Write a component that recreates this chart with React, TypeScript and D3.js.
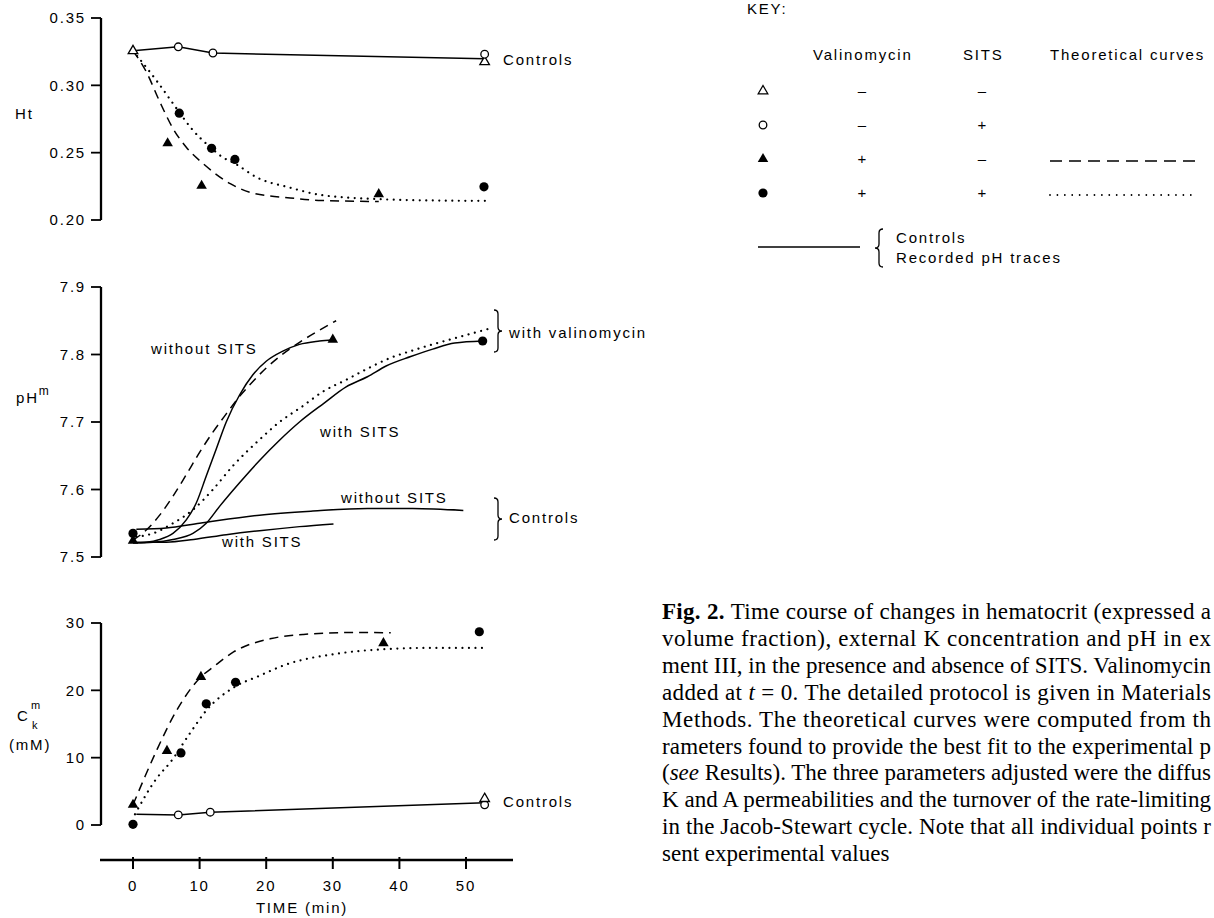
import React from 'react';
import * as d3 from 'd3';

type P = [number, number];

// ---------- axes ----------
const timeTicks = [0, 10, 20, 30, 40, 50];
const htTicks = [0.2, 0.25, 0.3, 0.35];
const phTicks = [7.5, 7.6, 7.7, 7.8, 7.9];
const ckTicks = [0, 10, 20, 30];

// ---------- Ht panel ----------
const htControlLine: P[] = [[0, 0.3256], [6.8, 0.3286], [12, 0.324], [52.8, 0.3197]];
const htOpenCircles: P[] = [[6.8, 0.3286], [12, 0.324], [52.8, 0.3231]];
const htOpenTriangles: P[] = [[0, 0.3256], [52.8, 0.3174]];
const htFilledTriangles: P[] = [[5.2, 0.257], [10.3, 0.2254], [36.9, 0.2192]];
const htFilledCircles: P[] = [[6.95, 0.2793], [11.8, 0.2532], [15.3, 0.245], [52.7, 0.2246]];
const htDashed: P[] = [[0, 0.3256], [2, 0.31], [4, 0.288], [6, 0.268], [8, 0.254], [10.5, 0.242], [14.6, 0.227], [17.6, 0.2205], [23.6, 0.2164], [28.3, 0.2145], [36.9, 0.2137]];
const htDotted: P[] = [[0, 0.3256], [3.5, 0.3037], [6.95, 0.28], [8.6, 0.269], [11.8, 0.2532], [13.5, 0.2465], [15.3, 0.242], [18.6, 0.2316], [23.6, 0.224], [28.3, 0.2185], [36.9, 0.2155], [45, 0.2145], [53.2, 0.2142]];

// ---------- pH panel ----------
const phWithoutSitsTrace: P[] = [[0, 7.521], [2, 7.522], [4, 7.526], [6, 7.535], [8, 7.555], [9.5, 7.58], [11, 7.62], [12.5, 7.66], [14, 7.7], [16, 7.74], [18, 7.77], [20, 7.79], [22.5, 7.805], [25, 7.815], [28, 7.82], [30, 7.822]];
const phWithSitsTrace: P[] = [[0, 7.521], [3, 7.522], [6, 7.526], [9, 7.535], [11, 7.55], [13, 7.575], [16, 7.61], [19, 7.643], [22, 7.673], [25, 7.7], [28.7, 7.728], [32, 7.752], [35.2, 7.767], [38, 7.783], [41.7, 7.797], [45, 7.808], [48.3, 7.817], [52.5, 7.82]];
const phDashed: P[] = [[0, 7.525], [2, 7.54], [4, 7.562], [6, 7.59], [8, 7.622], [10, 7.655], [12, 7.685], [14, 7.712], [16, 7.738], [18, 7.76], [20, 7.78], [22, 7.797], [25, 7.818], [28, 7.836], [30.5, 7.85]];
const phDotted: P[] = [[0.5, 7.53], [3, 7.535], [6, 7.55], [9, 7.57], [12, 7.6], [15, 7.635], [18.9, 7.673], [22, 7.7], [25.4, 7.723], [28.5, 7.745], [31.9, 7.762], [35, 7.778], [38.4, 7.794], [42, 7.806], [45, 7.815], [49, 7.826], [53.8, 7.839]];
const phCtrlWithoutSits: P[] = [[0.5, 7.541], [5, 7.543], [10, 7.55], [19, 7.562], [27, 7.568], [35.2, 7.572], [42, 7.572], [49.6, 7.569]];
const phCtrlWithSits: P[] = [[0.5, 7.522], [5, 7.522], [9.1, 7.526], [14, 7.533], [19, 7.539], [25, 7.545], [30.1, 7.549]];
const phFilledCircles: P[] = [[0, 7.535], [52.5, 7.82]];
const phFilledTriangles: P[] = [[0, 7.524], [30, 7.822]];

// ---------- K concentration panel ----------
const ckControlLine: P[] = [[0.5, 1.6], [6.8, 1.5], [11.6, 1.9], [52.8, 3.3]];
const ckOpenCircles: P[] = [[6.8, 1.5], [11.6, 1.9], [52.8, 3.0]];
const ckOpenTriangles: P[] = [[52.8, 3.9]];
const ckFilledTriangles: P[] = [[0, 3.0], [5.1, 11.0], [10.2, 22.0], [37.6, 27.0]];
const ckFilledCircles: P[] = [[0, 0.1], [7.2, 10.7], [11.0, 18.0], [15.4, 21.2], [52.0, 28.7]];
const ckDashed: P[] = [[0, 3.0], [1.8, 7.2], [3.6, 11.2], [6.6, 17.1], [10.2, 22.0], [12.1, 23.5], [15.1, 25.7], [20.8, 27.7], [25.6, 28.3], [33.6, 28.6], [38.7, 28.55]];
const ckDotted: P[] = [[0.3, 1.6], [3.6, 7.0], [5.6, 9.3], [8.6, 13.7], [11, 17.0], [15.4, 20.6], [18.6, 22.0], [22.9, 23.8], [31, 25.5], [37.6, 26.1], [44.4, 26.3], [53.2, 26.3]];

// ---------- key ----------
const keyHeaders = ['Valinomycin', 'SITS', 'Theoretical curves'];
const keyRows = [
  { sym: 'openTri', val: '–', sits: '–', curve: '' },
  { sym: 'openCircle', val: '–', sits: '+', curve: '' },
  { sym: 'filledTri', val: '+', sits: '–', curve: 'dashed' },
  { sym: 'filledCircle', val: '+', sits: '+', curve: 'dotted' },
];

const captionLines = [
  'Time course of changes in hematocrit (expressed a',
  'volume fraction), external K concentration and pH in ex',
  'ment III, in the presence and absence of SITS. Valinomycin',
  'added at ',
  'Methods. The theoretical curves were computed from th',
  'rameters found to provide the best fit to the experimental p',
  '(',
  'K and A permeabilities and the turnover of the rate-limiting',
  'in the Jacob-Stewart cycle. Note that all individual points r',
  'sent experimental values',
];

const SANS = "'Liberation Sans', Arial, Helvetica, sans-serif";
const SERIF = "'Liberation Serif', 'Times New Roman', serif";

const x = d3.scaleLinear().domain([0, 50]).range([133, 466]);
const yHt = d3.scaleLinear().domain([0.2, 0.35]).range([220, 18]);
const yPh = d3.scaleLinear().domain([7.5, 7.9]).range([557, 287]);
const yCk = d3.scaleLinear().domain([0, 30]).range([825, 623]);

const AXIS_X = 101;
const DASH = '9 6';
const DOT = '0.01 6.5';

const triPath = d3.symbol().type(d3.symbolTriangle).size(48)()!;
const triPathSmall = d3.symbol().type(d3.symbolTriangle).size(40)()!;

function Marker({ kind, cx, cy }: { kind: string; cx: number; cy: number }) {
  if (kind === 'filledCircle') return <circle cx={cx} cy={cy} r={4.6} fill="#000" />;
  if (kind === 'openCircle') return <circle cx={cx} cy={cy} r={3.8} fill="#fff" stroke="#000" strokeWidth={1.3} />;
  if (kind === 'filledTri') return <path d={triPath} transform={`translate(${cx},${cy})`} fill="#000" />;
  return <path d={triPathSmall} transform={`translate(${cx},${cy})`} fill="#fff" stroke="#000" strokeWidth={1.3} />;
}

function YAxis({ scale, ticks, fmt }: { scale: d3.ScaleLinear<number, number>; ticks: number[]; fmt: (v: number) => string }) {
  const [r0, r1] = scale.range();
  return (
    <g>
      <line x1={AXIS_X} x2={AXIS_X} y1={r1} y2={r0} stroke="#000" strokeWidth={2.3} />
      {ticks.map((t) => (
        <g key={t}>
          <line x1={AXIS_X - 10} x2={AXIS_X} y1={scale(t)} y2={scale(t)} stroke="#000" strokeWidth={1.8} />
          <text x={86} y={scale(t)} dy="0.36em" textAnchor="end" fontSize={15} letterSpacing={1.8} fontFamily={SANS}>
            {fmt(t)}
          </text>
        </g>
      ))}
    </g>
  );
}

function rightBrace(x0: number, y1: number, y2: number, w: number) {
  const ym = (y1 + y2) / 2;
  const xm = x0 + w / 2;
  return `M${x0},${y1} Q${xm},${y1} ${xm},${y1 + 4} L${xm},${ym - 4} Q${xm},${ym} ${x0 + w},${ym} Q${xm},${ym} ${xm},${ym + 4} L${xm},${y2 - 4} Q${xm},${y2} ${x0},${y2}`;
}
function leftBrace(x0: number, y1: number, y2: number, w: number) {
  const ym = (y1 + y2) / 2;
  const xm = x0 + w / 2;
  return `M${x0 + w},${y1} Q${xm},${y1} ${xm},${y1 + 4} L${xm},${ym - 4} Q${xm},${ym} ${x0},${ym} Q${xm},${ym} ${xm},${ym + 4} L${xm},${y2 - 4} Q${xm},${y2} ${x0 + w},${y2}`;
}

export default function App() {
  const lineFor = (ys: d3.ScaleLinear<number, number>, smooth = true) =>
    d3.line<P>().x((d) => x(d[0])).y((d) => ys(d[1])).curve(smooth ? d3.curveMonotoneX : d3.curveLinear);

  const series = (ys: d3.ScaleLinear<number, number>, data: P[], style: 'solid' | 'dashed' | 'dotted', smooth = true) => (
    <path
      d={lineFor(ys, smooth)(data) || ''}
      fill="none"
      stroke="#000"
      strokeWidth={style === 'dotted' ? 2.2 : 1.5}
      strokeDasharray={style === 'dashed' ? DASH : style === 'dotted' ? DOT : undefined}
      strokeLinecap={style === 'dotted' ? 'round' : 'butt'}
    />
  );

  const markers = (ys: d3.ScaleLinear<number, number>, data: P[], kind: string) =>
    data.map((d, i) => <Marker key={kind + i} kind={kind} cx={x(d[0])} cy={ys(d[1])} />);

  const txt = (s: string, tx: number, ty: number, extra: any = {}) => (
    <text x={tx} y={ty} fontSize={15} letterSpacing={1.8} fontFamily={SANS} {...extra}>
      {s}
    </text>
  );

  const capLeft = 662;
  const capY0 = 619;
  const capDy = 26.9;
  const capW = 1211 - capLeft;

  return (
    <svg width={1214} height={918} style={{ position: 'absolute', left: 0, top: 0, background: '#fff' }}>
      {/* ---------- Ht panel ---------- */}
      <YAxis scale={yHt} ticks={htTicks} fmt={(v) => v.toFixed(2)} />
      {txt('Ht', 15, 119)}
      {series(yHt, htControlLine, 'solid', false)}
      {series(yHt, htDashed, 'dashed')}
      {series(yHt, htDotted, 'dotted')}
      {markers(yHt, htOpenTriangles, 'openTri')}
      {markers(yHt, htOpenCircles, 'openCircle')}
      {markers(yHt, htFilledTriangles, 'filledTri')}
      {markers(yHt, htFilledCircles, 'filledCircle')}
      {txt('Controls', 503, 65)}

      {/* ---------- pH panel ---------- */}
      <YAxis scale={yPh} ticks={phTicks} fmt={(v) => v.toFixed(1)} />
      <text x={16} y={403} fontSize={15} letterSpacing={1.8} fontFamily={SANS}>
        pH<tspan dy={-8} fontSize={12}>m</tspan>
      </text>
      {series(yPh, phCtrlWithoutSits, 'solid')}
      {series(yPh, phCtrlWithSits, 'solid')}
      {series(yPh, phDashed, 'dashed')}
      {series(yPh, phDotted, 'dotted')}
      {series(yPh, phWithoutSitsTrace, 'solid')}
      {series(yPh, phWithSitsTrace, 'solid')}
      {markers(yPh, phFilledCircles, 'filledCircle')}
      {markers(yPh, phFilledTriangles, 'filledTri')}
      {txt('without SITS', 151, 354)}
      {txt('with SITS', 320, 437)}
      {txt('without SITS', 341, 503)}
      {txt('with SITS', 222, 547)}
      <path d={rightBrace(494, 310, 352, 8)} fill="none" stroke="#000" strokeWidth={1.3} />
      {txt('with valinomycin', 509, 338)}
      <path d={rightBrace(494, 498, 540, 8)} fill="none" stroke="#000" strokeWidth={1.3} />
      {txt('Controls', 509, 523)}

      {/* ---------- K panel ---------- */}
      <YAxis scale={yCk} ticks={ckTicks} fmt={(v) => String(v)} />
      <text x={17} y={721} fontSize={15} letterSpacing={1.8} fontFamily={SANS}>C</text>
      <text x={31} y={709} fontSize={11} fontFamily={SANS}>m</text>
      <text x={32} y={729} fontSize={11} fontFamily={SANS}>k</text>
      {txt('(mM)', 9, 750)}
      {series(yCk, ckControlLine, 'solid', false)}
      {series(yCk, ckDashed, 'dashed')}
      {series(yCk, ckDotted, 'dotted')}
      {markers(yCk, ckOpenCircles, 'openCircle')}
      {markers(yCk, ckOpenTriangles, 'openTri')}
      {markers(yCk, ckFilledTriangles, 'filledTri')}
      {markers(yCk, ckFilledCircles, 'filledCircle')}
      {txt('Controls', 503, 807)}

      {/* ---------- time axis ---------- */}
      <line x1={100} x2={513} y1={860} y2={860} stroke="#000" strokeWidth={2.3} />
      {timeTicks.map((t) => (
        <g key={t}>
          <line x1={x(t)} x2={x(t)} y1={857} y2={869} stroke="#000" strokeWidth={2} />
          <text x={x(t)} y={891} textAnchor="middle" fontSize={15} letterSpacing={1.8} fontFamily={SANS}>
            {t}
          </text>
        </g>
      ))}
      {txt('TIME (min)', 302, 913, { textAnchor: 'middle' })}

      {/* ---------- key ---------- */}
      {txt('KEY:', 747, 14)}
      {txt(keyHeaders[0], 813, 60)}
      {txt(keyHeaders[1], 963, 60)}
      {txt(keyHeaders[2], 1050, 60)}
      {keyRows.map((r, i) => {
        const cy = 91 + i * 34;
        return (
          <g key={i}>
            <Marker kind={r.sym} cx={763} cy={cy} />
            {txt(r.val, 862, cy + 5, { textAnchor: 'middle', letterSpacing: 0 })}
            {txt(r.sits, 982, cy + 5, { textAnchor: 'middle', letterSpacing: 0 })}
            {r.curve && (
              <line
                x1={1050}
                x2={1198}
                y1={cy + 2}
                y2={cy + 2}
                stroke="#000"
                strokeWidth={r.curve === 'dotted' ? 1.8 : 1.3}
                strokeDasharray={r.curve === 'dashed' ? '12 7' : '0.01 7.4'}
                strokeLinecap={r.curve === 'dotted' ? 'round' : 'butt'}
              />
            )}
          </g>
        );
      })}
      <line x1={758} x2={860} y1={247} y2={247} stroke="#000" strokeWidth={1.4} />
      <path d={leftBrace(875, 229, 267, 8)} fill="none" stroke="#000" strokeWidth={1.3} />
      {txt('Controls', 896, 243)}
      {txt('Recorded pH traces', 896, 263)}

      {/* ---------- caption ---------- */}
      <g fontFamily={SERIF} fontSize={23}>
        <text x={capLeft} y={capY0} textLength={capW} lengthAdjust="spacing">
          <tspan fontWeight="bold">Fig. 2. </tspan>
          {captionLines[0]}
        </text>
        <text x={capLeft} y={capY0 + capDy} textLength={capW} lengthAdjust="spacing">{captionLines[1]}</text>
        <text x={capLeft} y={capY0 + 2 * capDy} textLength={capW} lengthAdjust="spacing">{captionLines[2]}</text>
        <text x={capLeft} y={capY0 + 3 * capDy} textLength={capW} lengthAdjust="spacing">
          {captionLines[3]}
          <tspan fontStyle="italic">t</tspan> = 0. The detailed protocol is given in Materials
        </text>
        <text x={capLeft} y={capY0 + 4 * capDy} textLength={capW} lengthAdjust="spacing">{captionLines[4]}</text>
        <text x={capLeft} y={capY0 + 5 * capDy} textLength={capW} lengthAdjust="spacing">{captionLines[5]}</text>
        <text x={capLeft} y={capY0 + 6 * capDy} textLength={capW} lengthAdjust="spacing">
          {captionLines[6]}
          <tspan fontStyle="italic">see</tspan> Results). The three parameters adjusted were the diffus
        </text>
        <text x={capLeft} y={capY0 + 7 * capDy} textLength={capW} lengthAdjust="spacing">{captionLines[7]}</text>
        <text x={capLeft} y={capY0 + 8 * capDy} textLength={capW} lengthAdjust="spacing">{captionLines[8]}</text>
        <text x={capLeft} y={capY0 + 9 * capDy}>{captionLines[9]}</text>
      </g>
    </svg>
  );
}
